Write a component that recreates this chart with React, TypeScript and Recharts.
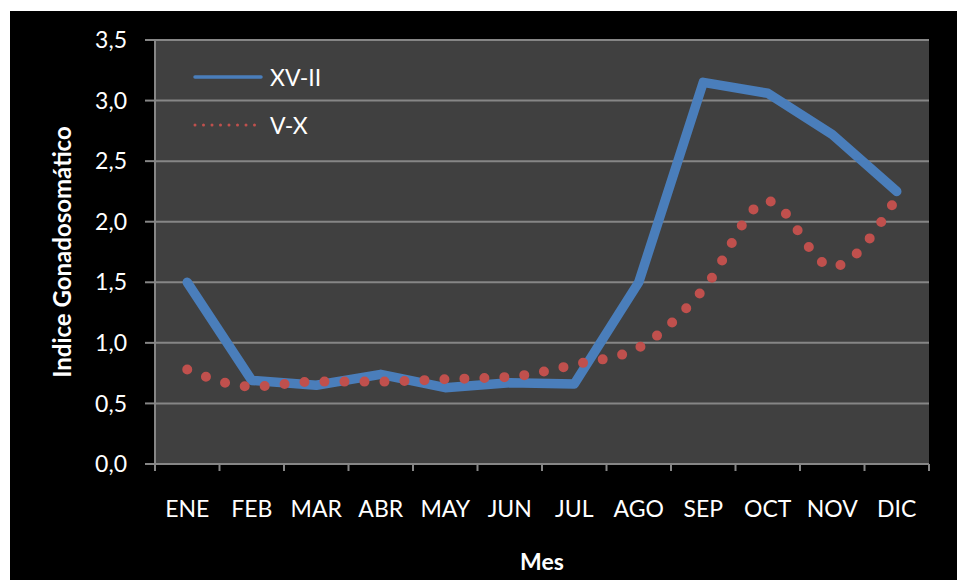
import React from 'react';
import { LineChart, Line, XAxis, YAxis, CartesianGrid } from 'recharts';

const months = ['ENE', 'FEB', 'MAR', 'ABR', 'MAY', 'JUN', 'JUL', 'AGO', 'SEP', 'OCT', 'NOV', 'DIC'];
const xvII = [1.5, 0.69, 0.65, 0.74, 0.63, 0.67, 0.66, 1.5, 3.15, 3.06, 2.72, 2.25];
const vX = [0.78, 0.64, 0.68, 0.68, 0.7, 0.72, 0.82, 0.96, 1.44, 2.17, 1.63, 2.2];
const yTicks = [0, 0.5, 1, 1.5, 2, 2.5, 3, 3.5];

const data = months.map((m, i) => ({ month: m, xv: xvII[i], vx: vX[i] }));

const CHART_W = 947;
const CHART_H = 569;
const MARGIN = { top: 29, right: 28, left: 0, bottom: 0 };
const Y_W = 145;
const PLOT_W = CHART_W - MARGIN.right - Y_W;
const BAND = PLOT_W / months.length;

const FONT = 'Lato, "Open Sans", sans-serif';
const GRID = '#868686'; // excel gray
const BLUE = '#4a7ebb';
const RED = '#c0504d';

const MonthTick = (props: any) => {
  const { x, y, payload, index } = props;
  const last = index === months.length - 1;
  return (
    <g>
      <line x1={x - BAND / 2} x2={x - BAND / 2} y1={y} y2={y + 7} stroke={GRID} strokeWidth={2} />
      {last && <line x1={x + BAND / 2} x2={x + BAND / 2} y1={y} y2={y + 7} stroke={GRID} strokeWidth={2} />}
      <text x={x} y={y + 44} textAnchor="middle" dominantBaseline="central" fill="#fff" fontSize={23} fontFamily={FONT}>
        {payload.value}
      </text>
    </g>
  );
};

// legend drawn by hand, sitting inside the plot area
const LegendBox = () => (
  <div style={{ position: 'absolute', left: 183, top: 54, fontFamily: FONT, fontSize: 23, color: '#fff', lineHeight: '24px' }}>
    <div style={{ display: 'flex', alignItems: 'center', height: 24, marginBottom: 24 }}>
      <svg width={70} height={24}>
        <line x1={2} x2={68} y1={12} y2={12} stroke={BLUE} strokeWidth={3.5} strokeLinecap="round" />
      </svg>
      <span style={{ marginLeft: 7 }}>XV-II</span>
    </div>
    <div style={{ display: 'flex', alignItems: 'center', height: 24 }}>
      <svg width={70} height={24}>
        <line x1={2} x2={70} y1={12} y2={12} stroke={RED} strokeWidth={3} strokeDasharray="0 8.5" strokeLinecap="round" />
      </svg>
      <span style={{ marginLeft: 7 }}>V-X</span>
    </div>
  </div>
);

export default function App() {
  return (
    <div style={{ position: 'absolute', left: 0, top: 0, width: 957, height: 580, background: '#fff', overflow: 'hidden' }}>
      <div style={{ position: 'absolute', left: 10, top: 11, width: CHART_W, height: CHART_H, background: '#000' }}>
        <LineChart width={CHART_W} height={CHART_H} data={data} margin={MARGIN}>
          <CartesianGrid vertical={false} stroke={GRID} strokeWidth={2} fill="#404040" fillOpacity={1} />
          <XAxis
            dataKey="month"
            height={116}
            padding={{ left: BAND / 2, right: BAND / 2 }}
            axisLine={{ stroke: GRID, strokeWidth: 2 }}
            tickLine={false}
            tickSize={0}
            tickMargin={0}
            interval={0}
            tick={<MonthTick />}
            label={{
              value: 'Mes',
              position: 'insideBottom',
              offset: 10,
              fill: '#fff',
              fontSize: 23,
              fontWeight: 'bold',
              fontFamily: FONT,
            }}
          />
          <YAxis
            width={Y_W}
            domain={[0, 3.5]}
            ticks={yTicks}
            interval={0}
            axisLine={{ stroke: GRID, strokeWidth: 2 }}
            tickLine={{ stroke: GRID, strokeWidth: 2 }}
            tickSize={10}
            tickMargin={18}
            tick={{ fill: '#fff', fontSize: 23, fontFamily: FONT }}
            tickFormatter={(v: number) => v.toFixed(1).replace('.', ',')}
            label={{
              value: 'Indice Gonadosomático',
              angle: -90,
              position: 'insideLeft',
              offset: 52,
              fill: '#fff',
              fontSize: 24,
              fontWeight: 'bold',
              fontFamily: FONT,
              style: { textAnchor: 'middle' },
            }}
          />
          <Line
            type="linear"
            dataKey="xv"
            name="XV-II"
            stroke={BLUE}
            strokeWidth={9.5}
            strokeLinejoin="round"
            strokeLinecap="round"
            dot={false}
            activeDot={false}
            isAnimationActive={false}
          />
          <Line
            type="monotone"
            dataKey="vx"
            name="V-X"
            stroke={RED}
            strokeWidth={10}
            strokeDasharray="0 20"
            strokeLinecap="round"
            dot={false}
            activeDot={false}
            isAnimationActive={false}
          />
        </LineChart>
        <LegendBox />
      </div>
    </div>
  );
}
